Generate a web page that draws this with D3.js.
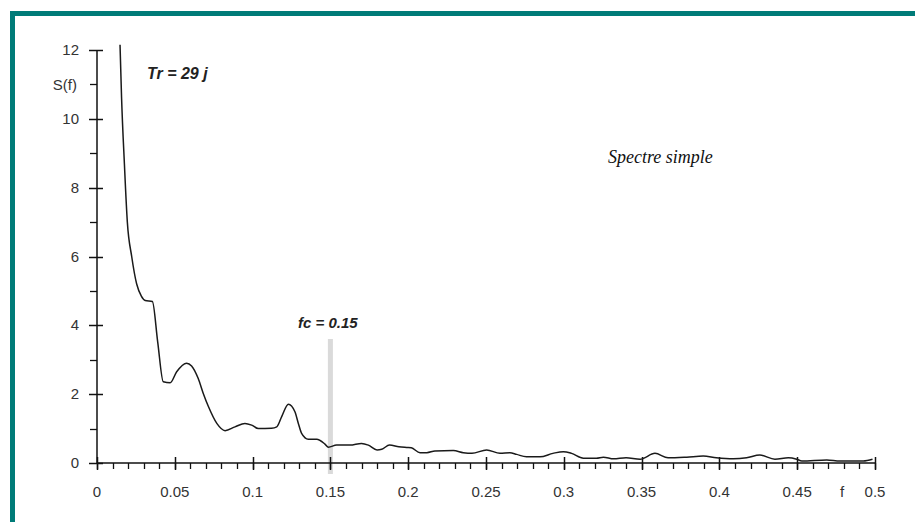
<!DOCTYPE html>
<html><head><meta charset="utf-8">
<script src="https://cdn.jsdelivr.net/npm/d3@7"></script>
<style>
html,body{margin:0;padding:0;background:#fff;}
svg{display:block;}
</style></head>
<body>
<svg id="chart" width="915" height="522"></svg>
<script>
// Data
const freq = [0.0148,0.0158,0.0176,0.0195,0.0223,0.0255,0.0285,0.031,0.0356,0.039,0.0426,0.047,0.0512,0.0576,0.0608,0.065,0.0683,0.0716,0.077,0.0823,0.0887,0.0951,0.0994,0.1037,0.1122,0.1155,0.1187,0.123,0.1272,0.1294,0.1315,0.1358,0.1412,0.1465,0.1487,0.154,0.1626,0.170,0.1744,0.180,0.183,0.188,0.194,0.199,0.202,0.2076,0.212,0.2172,0.229,0.2354,0.241,0.2504,0.259,0.2654,0.2697,0.276,0.2847,0.293,0.2997,0.305,0.3126,0.321,0.3254,0.332,0.340,0.349,0.3586,0.367,0.379,0.3896,0.398,0.409,0.4175,0.426,0.4357,0.4443,0.4497,0.453,0.469,0.4775,0.4925,0.4984];
const spectrum = [12.15,10.6,8.7,7.0,6.0,5.2,4.85,4.72,4.69,3.52,2.36,2.33,2.65,2.9,2.82,2.46,2.02,1.64,1.15,0.94,1.05,1.15,1.1,1.0,1.01,1.05,1.35,1.71,1.49,1.15,0.86,0.69,0.69,0.55,0.46,0.52,0.52,0.57,0.52,0.38,0.40,0.52,0.47,0.45,0.44,0.30,0.30,0.35,0.36,0.30,0.28,0.38,0.28,0.30,0.25,0.18,0.18,0.28,0.33,0.28,0.14,0.14,0.17,0.12,0.15,0.11,0.28,0.15,0.17,0.20,0.15,0.12,0.15,0.23,0.11,0.15,0.11,0.06,0.09,0.06,0.06,0.11];
const xTicks = [0,0.05,0.1,0.15,0.2,0.25,0.3,0.35,0.4,0.45,0.5];
const xTickLabels = ["0","0.05","0.1","0.15","0.2","0.25","0.3","0.35","0.4","0.45","0.5"];
const yTicks = [0,2,4,6,8,10,12];
const cutoffFreq = 0.15;

const svg = d3.select("#chart");

// teal frame
svg.append("rect").attr("x",12.5).attr("y",13.5).attr("width",920).attr("height",530)
  .attr("fill","none").attr("stroke","#007b78").attr("stroke-width",5);

const x = d3.scaleLinear().domain([0,0.5]).range([97,875]);
const y = d3.scaleLinear().domain([0,12]).range([463,50]);

const axisColor = "#111";
const font = "'Liberation Sans', Arial, sans-serif";

// cutoff bar
svg.append("line").attr("x1",x(cutoffFreq)).attr("x2",x(cutoffFreq))
  .attr("y1",339).attr("y2",474).attr("stroke","#dadada").attr("stroke-width",5);

// X axis
const gx = svg.append("g");
gx.append("line").attr("x1",x(0)).attr("x2",x(0.5)).attr("y1",y(0)).attr("y2",y(0))
  .attr("stroke",axisColor).attr("stroke-width",1.5);
const minorX = d3.range(0,51).map(i=>i/100);
gx.selectAll("line.minor").data(minorX).enter().append("line")
  .attr("x1",d=>Math.round(x(d))+0.5).attr("x2",d=>Math.round(x(d))+0.5)
  .attr("y1",y(0)).attr("y2",y(0)+6).attr("stroke",axisColor).attr("stroke-width",1.3);
gx.selectAll("line.major").data(xTicks).enter().append("line")
  .attr("x1",d=>Math.round(x(d))+0.5).attr("x2",d=>Math.round(x(d))+0.5)
  .attr("y1",y(0)-6).attr("y2",y(0)+7).attr("stroke",axisColor).attr("stroke-width",1.5);
gx.selectAll("text").data(xTicks).enter().append("text")
  .attr("x",d=>x(d)).attr("y",497).attr("text-anchor","middle")
  .attr("font-family",font).attr("font-size",15).attr("fill","#333")
  .text((d,i)=>xTickLabels[i]);
svg.append("text").attr("x",842).attr("y",497).attr("text-anchor","middle")
  .attr("font-family",font).attr("font-size",15).attr("fill","#333").text("f");

// Y axis
const gy = svg.append("g");
gy.append("line").attr("x1",x(0)).attr("x2",x(0)).attr("y1",y(0)).attr("y2",y(12))
  .attr("stroke",axisColor).attr("stroke-width",1.5);
const minorY = d3.range(1,12,2);
gy.selectAll("line.minor").data(minorY).enter().append("line")
  .attr("x1",x(0)-7).attr("x2",x(0))
  .attr("y1",d=>Math.round(y(d))+0.5).attr("y2",d=>Math.round(y(d))+0.5)
  .attr("stroke",axisColor).attr("stroke-width",1.3);
gy.selectAll("line.major").data(yTicks).enter().append("line")
  .attr("x1",x(0)-8).attr("x2",x(0)+6)
  .attr("y1",d=>Math.round(y(d))+0.5).attr("y2",d=>Math.round(y(d))+0.5)
  .attr("stroke",axisColor).attr("stroke-width",1.5);
gy.selectAll("text").data(yTicks).enter().append("text")
  .attr("x",79).attr("y",d=>y(d)+5).attr("text-anchor","end")
  .attr("font-family",font).attr("font-size",15).attr("fill","#333")
  .text(d=>d);
svg.append("text").attr("x",77).attr("y",90).attr("text-anchor","end")
  .attr("font-family",font).attr("font-size",15).attr("fill","#333").text("S(f)");

// spectrum line
const pts = freq.map((f,i)=>[f,spectrum[i]]);
const line = d3.line().x(d=>x(d[0])).y(d=>y(d[1])).curve(d3.curveMonotoneX);
svg.append("path").attr("d",line(pts)).attr("fill","none")
  .attr("stroke","#1a1a1a").attr("stroke-width",1.5);

// annotations
svg.append("text").attr("x",147).attr("y",79)
  .attr("font-family",font).attr("font-size",16).attr("font-weight","bold").attr("font-style","italic")
  .attr("fill","#222").text("Tr = 29 j");
svg.append("text").attr("x",298).attr("y",328)
  .attr("font-family",font).attr("font-size",15).attr("font-weight","bold").attr("font-style","italic")
  .attr("fill","#222").text("fc = 0.15");
svg.append("text").attr("x",608).attr("y",163)
  .attr("font-family","'Liberation Serif', 'Times New Roman', serif").attr("font-size",18).attr("font-style","italic")
  .attr("fill","#111").text("Spectre simple");
</script>
</body></html>
